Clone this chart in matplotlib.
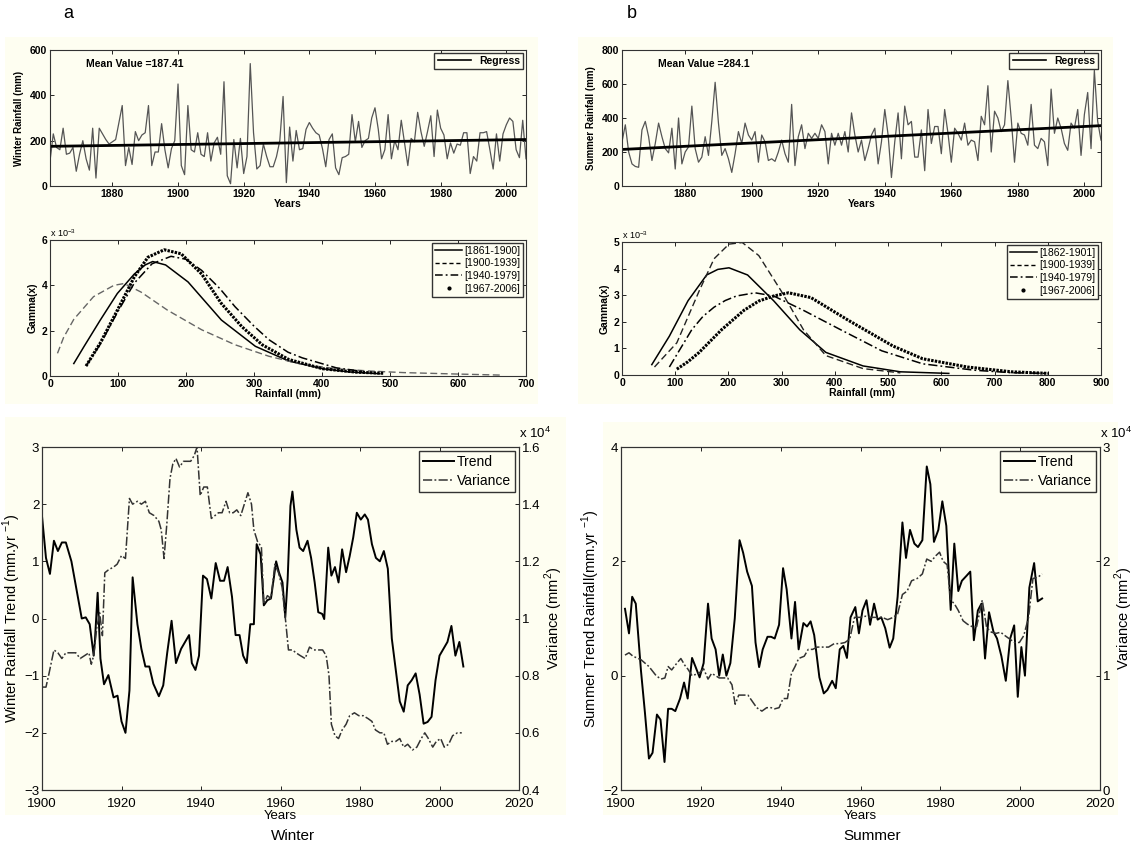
import matplotlib
matplotlib.use('Agg')
import matplotlib.pyplot as plt
from matplotlib.lines import Line2D
from matplotlib.patches import Rectangle

plt.rcParams['font.family'] = ['Liberation Sans', 'DejaVu Sans']
plt.rcParams['mathtext.fontset'] = 'custom'
plt.rcParams['mathtext.rm'] = 'Liberation Sans'

# ---------------- data ----------------
winter_years = list(range(1861, 2007))
winter_rain = [110, 230, 170, 160, 255, 140, 145, 170, 65, 140,
               200, 120, 70, 255, 35, 255, 230, 205, 185, 195,
               205, 280, 355, 90, 170, 95, 240, 200, 225, 235,
               355, 90, 150, 150, 275, 160, 80, 165, 200, 450,
               90, 50, 355, 160, 150, 235, 140, 130, 235, 110,
               190, 215, 140, 460, 45, 10, 205, 80, 210, 55,
               130, 540, 235, 75, 90, 185, 130, 85, 85, 130,
               200, 395, 15, 260, 110, 245, 160, 165, 250, 280,
               255, 235, 225, 165, 85, 205, 230, 80, 50, 125,
               130, 140, 315, 195, 285, 170, 200, 210, 300, 345,
               250, 120, 160, 315, 120, 200, 160, 290, 190, 90,
               210, 195, 325, 240, 175, 240, 310, 130, 335, 255,
               225, 120, 190, 145, 185, 180, 235, 235, 55, 130,
               110, 235, 235, 240, 160, 75, 230, 110, 230, 270,
               300, 285, 160, 125, 290, 120]
winter_reg_years = [1861, 2006]
winter_reg_vals = [175, 205]
winter_mean_text = 'Mean Value =187.41'

summer_years = list(range(1861, 2006))
summer_rain = [260, 360, 200, 130, 115, 110, 330, 380, 290, 150,
               250, 370, 290, 220, 195, 340, 100, 400, 130, 200,
               230, 470, 220, 140, 170, 290, 180, 380, 610, 370,
               180, 220, 160, 80, 190, 320, 250, 370, 300, 270,
               320, 140, 300, 260, 150, 160, 145, 200, 270, 190,
               140, 480, 120, 290, 360, 220, 310, 280, 310, 280,
               360, 320, 130, 310, 240, 310, 240, 320, 200, 430,
               300, 200, 270, 150, 220, 300, 340, 130, 260, 450,
               300, 50, 260, 430, 160, 470, 360, 380, 170, 170,
               330, 90, 450, 250, 350, 350, 190, 450, 310, 140,
               340, 310, 270, 370, 240, 270, 260, 150, 410, 360,
               590, 200, 440, 400, 320, 360, 620, 400, 140, 370,
               310, 300, 240, 480, 240, 220, 280, 260, 120, 570,
               310, 400, 340, 250, 210, 370, 340, 450, 180, 420,
               550, 220, 680, 380, 270]
summer_reg_years = [1861, 2005]
summer_reg_vals = [215, 355]
summer_mean_text = 'Mean Value =284.1'

# gamma curves (y in units of 1e-3)
wg_labels = ['[1861-1900]', '[1900-1939]', '[1940-1979]', '[1967-2006]']
wg1_x = [35, 50, 74, 99, 124, 140, 151, 170, 203, 252, 302, 351, 401, 440, 485]
wg1_y = [0.55, 1.3, 2.47, 3.64, 4.5, 4.9, 5.05, 4.9, 4.15, 2.47, 1.31, 0.66, 0.32, 0.18, 0.1]
wg2_x = [11, 20, 35, 64, 94, 109, 134, 173, 223, 272, 322, 371, 421, 470, 520, 594, 663]
wg2_y = [1.0, 1.7, 2.5, 3.5, 4.0, 4.08, 3.7, 2.9, 2.04, 1.38, 0.87, 0.51, 0.32, 0.22, 0.15, 0.09, 0.04]
wg3_x = [53, 74, 99, 124, 150, 178, 200, 223, 250, 272, 300, 322, 350, 371, 421, 460]
wg3_y = [0.44, 1.4, 2.8, 4.1, 4.95, 5.28, 5.15, 4.66, 3.85, 3.06, 2.2, 1.6, 1.05, 0.8, 0.36, 0.2]
wg4_x = [53, 74, 99, 124, 144, 168, 193, 223, 252, 282, 312, 351, 401, 450, 490]
wg4_y = [0.44, 1.46, 2.9, 4.37, 5.24, 5.57, 5.39, 4.5, 3.2, 2.18, 1.38, 0.73, 0.32, 0.17, 0.12]

sg_labels = ['[1862-1901]', '[1900-1939]', '[1940-1979]', '[1967-2006]']
sg1_x = [56, 89, 124, 159, 180, 201, 236, 285, 334, 383, 453, 523, 614]
sg1_y = [0.39, 1.46, 2.79, 3.76, 3.97, 4.03, 3.76, 2.79, 1.70, 0.85, 0.34, 0.12, 0.06]
sg2_x = [61, 103, 145, 173, 201, 226, 257, 299, 341, 383, 453, 523]
sg2_y = [0.3, 1.21, 3.16, 4.37, 4.92, 4.98, 4.49, 3.16, 1.7, 0.73, 0.24, 0.08]
sg3_x = [89, 110, 131, 152, 173, 194, 215, 250, 285, 341, 411, 488, 565, 662, 732, 802]
sg3_y = [0.3, 1.0, 1.70, 2.2, 2.55, 2.8, 2.97, 3.09, 2.97, 2.43, 1.70, 0.91, 0.42, 0.18, 0.085, 0.06]
sg4_x = [103, 124, 145, 187, 229, 257, 285, 313, 355, 425, 509, 565, 649, 732, 802]
sg4_y = [0.22, 0.5, 0.85, 1.70, 2.43, 2.78, 2.97, 3.09, 2.91, 2.06, 1.09, 0.61, 0.30, 0.12, 0.06]

# moving trend / variance (variance in units of 1e4 mm^2)
wt_years = [1900, 1901, 1902, 1903, 1904, 1905, 1906, 1907.4, 1910, 1911,
            1912, 1913, 1913.3, 1914, 1914.7, 1915.6, 1916.7, 1918, 1919, 1920,
            1921, 1922, 1922.8, 1924, 1925, 1926, 1927, 1928, 1929.4, 1930.5,
            1931.5, 1932.6, 1933.7, 1935, 1936, 1937, 1937.7, 1938.6, 1939.5, 1940.5,
            1941.5, 1942.6, 1943.7, 1944.8, 1945.8, 1946.7, 1947.8, 1948.7, 1949.7, 1950.6,
            1951.5, 1952.4, 1953.3, 1954, 1955, 1955.8, 1956.7, 1957.6, 1958.9, 1959.6,
            1960.5, 1961.2, 1961.8, 1962.5, 1963, 1964, 1964.8, 1965.7, 1966.8, 1967.7,
            1968.6, 1969.5, 1970.5, 1971, 1972, 1972.8, 1973.7, 1974.6, 1975.5, 1976.5,
            1977.4, 1978.3, 1979.2, 1980.2, 1981.2, 1982, 1983, 1984, 1985, 1986,
            1987, 1988, 1989, 1990, 1991, 1992, 1993, 1994, 1995, 1996,
            1997, 1998, 1999, 2000, 2001, 2002, 2003, 2004, 2005, 2006]
wt_vals = [1.79, 1.06, 0.78, 1.36, 1.18, 1.33, 1.33, 1.0, 0.0, 0.02,
           -0.1, -0.65, -0.4, 0.45, -0.7, -1.15, -0.99, -1.38, -1.35, -1.8,
           -2.0, -1.26, 0.72, -0.1, -0.53, -0.84, -0.84, -1.14, -1.36, -1.17,
           -0.6, -0.04, -0.78, -0.53, -0.41, -0.29, -0.78, -0.9, -0.65, 0.75,
           0.69, 0.35, 0.97, 0.66, 0.66, 0.9, 0.38, -0.29, -0.29, -0.65,
           -0.78, -0.1, -0.1, 1.30, 1.12, 0.23, 0.32, 0.35, 1.0, 0.81,
           0.63, 0.02, 0.69, 1.97, 2.22, 1.55, 1.24, 1.18, 1.36, 1.06,
           0.63, 0.11, 0.08, -0.01, 1.24, 0.75, 0.9, 0.63, 1.21, 0.81,
           1.09, 1.42, 1.85, 1.73, 1.82, 1.73, 1.30, 1.06, 1.0, 1.18,
           0.87, -0.35, -0.9, -1.45, -1.63, -1.17, -1.08, -0.96, -1.33, -1.84,
           -1.81, -1.72, -1.08, -0.65, -0.53, -0.41, -0.13, -0.65, -0.41, -0.84]
wv_years = [1900, 1901, 1901.8, 1903, 1904, 1905, 1906, 1907, 1908.5, 1909.6,
            1910.7, 1911.8, 1912.4, 1913, 1913.8, 1914.5, 1915.2, 1915.8, 1916.7, 1918,
            1918.9, 1920, 1921, 1922, 1922.8, 1924, 1925, 1926, 1927, 1928.2,
            1929.4, 1930, 1930.7, 1931.4, 1932.2, 1932.9, 1933.7, 1934.6, 1935.6, 1936.5,
            1937.4, 1938.3, 1939, 1939.8, 1940.7, 1941.6, 1942.6, 1943.5, 1944.4, 1945.3,
            1946.3, 1947.2, 1948.1, 1949, 1950, 1950.9, 1951.8, 1952.7, 1953.3, 1954.2,
            1955.2, 1955.8, 1956.7, 1957.6, 1958.6, 1959.5, 1960.4, 1961.3, 1962, 1963,
            1963.9, 1965, 1966.2, 1967.3, 1968.4, 1969.5, 1970.6, 1971.5, 1972.2, 1972.8,
            1973.7, 1974.6, 1975.5, 1976.5, 1977.4, 1978.6, 1979.7, 1980.8, 1982, 1983,
            1983.9, 1985, 1986, 1986.9, 1988, 1989, 1990, 1991, 1992, 1993.2,
            1994.3, 1995.4, 1996.3, 1997.2, 1998.3, 1999.2, 2000.3, 2001.2, 2002.3, 2003.3,
            2004.5, 2005.6]
wv_vals = [0.76, 0.76, 0.81, 0.89, 0.88, 0.86, 0.88, 0.88, 0.88, 0.86,
           0.87, 0.88, 0.84, 0.87, 0.97, 1.02, 0.94, 1.16, 1.17, 1.18,
           1.19, 1.22, 1.21, 1.42, 1.40, 1.41, 1.40, 1.41, 1.37, 1.36,
           1.34, 1.31, 1.21, 1.33, 1.49, 1.54, 1.56, 1.53, 1.55, 1.55,
           1.55, 1.57, 1.60, 1.43, 1.46, 1.46, 1.35, 1.36, 1.37, 1.37,
           1.41, 1.37, 1.37, 1.38, 1.36, 1.40, 1.44, 1.40, 1.31, 1.27,
           1.25, 1.05, 1.08, 1.07, 1.19, 1.16, 1.11, 0.99, 0.89, 0.89,
           0.88, 0.87, 0.86, 0.90, 0.89, 0.89, 0.89, 0.87, 0.80, 0.63,
           0.59, 0.58, 0.61, 0.63, 0.66, 0.67, 0.66, 0.66, 0.65, 0.64,
           0.61, 0.60, 0.60, 0.56, 0.57, 0.57, 0.58, 0.55, 0.56, 0.54,
           0.55, 0.58, 0.60, 0.58, 0.55, 0.57, 0.58, 0.55, 0.56, 0.59,
           0.60, 0.60]

st_years = [1901, 1902, 1902.8, 1903.7, 1905, 1906, 1907, 1907.9, 1909, 1909.9,
            1910.9, 1911.8, 1912.7, 1913.6, 1914.8, 1915.8, 1916.7, 1917.8, 1918.7, 1919.7,
            1920.7, 1921.8, 1922.7, 1923.7, 1924.6, 1925.5, 1926.4, 1927.4, 1928.5, 1929.7,
            1930.6, 1931.6, 1932.8, 1933.7, 1934.6, 1935.5, 1936.7, 1937.6, 1938.5, 1939.6,
            1940.6, 1941.5, 1942.7, 1943.6, 1944.5, 1945.7, 1946.6, 1947.5, 1948.4, 1949.7,
            1950.8, 1951.7, 1952.9, 1953.8, 1954.8, 1955.7, 1956.6, 1957.5, 1958.7, 1959.6,
            1960.5, 1961.5, 1962.4, 1963.4, 1964.3, 1965.2, 1966.2, 1967.3, 1968.2, 1969.3,
            1970.5, 1971.4, 1972.4, 1973.5, 1974.4, 1975.5, 1976.6, 1977.5, 1978.4, 1979.5,
            1980.5, 1981.5, 1982.6, 1983.5, 1984.5, 1985.4, 1986.6, 1987.5, 1988.4, 1989.4,
            1990.3, 1991.2, 1992.2, 1993.3, 1994.2, 1995.3, 1996.4, 1997.5, 1998.5, 1999.4,
            2000.3, 2001.2, 2002.3, 2003.5, 2004.4, 2005.5]
st_vals = [1.17, 0.74, 1.38, 1.26, 0.09, -0.65, -1.45, -1.35, -0.68, -0.77,
           -1.51, -0.58, -0.58, -0.62, -0.4, -0.12, -0.4, 0.31, 0.15, -0.03,
           0.22, 1.26, 0.65, 0.46, 0.0, 0.37, 0.0, 0.22, 1.0, 2.37,
           2.15, 1.82, 1.57, 0.58, 0.15, 0.46, 0.68, 0.68, 0.65, 0.89,
           1.88, 1.51, 0.65, 1.29, 0.46, 0.92, 0.86, 0.95, 0.71, -0.03,
           -0.31, -0.25, -0.09, -0.22, 0.46, 0.52, 0.31, 1.02, 1.2, 0.74,
           1.14, 1.32, 0.89, 1.26, 0.98, 1.02, 0.83, 0.49, 0.65, 1.38,
           2.68, 2.06, 2.55, 2.31, 2.25, 2.37, 3.66, 3.35, 2.34, 2.55,
           3.05, 2.62, 1.15, 2.31, 1.48, 1.66, 1.75, 1.82, 0.62, 1.14,
           1.26, 0.3, 1.11, 0.77, 0.65, 0.34, -0.09, 0.65, 0.88, -0.37,
           0.5, 0.0, 1.54, 1.97, 1.30, 1.35]
sv_years = [1901, 1902, 1903, 1905, 1907, 1908.8, 1910, 1911, 1911.8, 1912.7,
            1914, 1915, 1916, 1916.7, 1917.8, 1919.5, 1920.7, 1921.8, 1922.7, 1923.7,
            1924.6, 1925.7, 1926.7, 1927.8, 1928.6, 1929.5, 1930.6, 1931.8, 1933, 1934,
            1935.3, 1936.5, 1937.6, 1938.5, 1939.6, 1940.6, 1941.7, 1942.7, 1943.6, 1944.5,
            1945.9, 1946.9, 1948, 1949.2, 1950.6, 1952, 1953.4, 1954.8, 1956.1, 1957.3,
            1958.5, 1959.9, 1961.3, 1962.6, 1964, 1965.4, 1966.8, 1968.2, 1969.3, 1970.5,
            1971.7, 1972.8, 1974.2, 1975.5, 1976.6, 1977.7, 1978.9, 1979.8, 1980.7, 1981.7,
            1982.6, 1983.5, 1984.5, 1985.7, 1986.8, 1987.9, 1989.1, 1990.5, 1991.6, 1992.8,
            1994, 1995.1, 1996.2, 1997.4, 1998.6, 1999.8, 2000.9, 2002.1, 2003.2, 2004.4,
            2005.5]
sv_vals = [1.18, 1.2, 1.17, 1.14, 1.08, 1.0, 0.97, 0.98, 1.08, 1.05,
           1.11, 1.15, 1.09, 1.06, 1.0, 1.02, 1.06, 0.97, 1.02, 1.0,
           0.98, 0.98, 0.98, 0.92, 0.75, 0.83, 0.83, 0.83, 0.77, 0.72,
           0.69, 0.72, 0.72, 0.71, 0.72, 0.80, 0.80, 1.02, 1.08, 1.15,
           1.17, 1.23, 1.23, 1.25, 1.25, 1.25, 1.28, 1.28, 1.29, 1.32,
           1.51, 1.51, 1.52, 1.51, 1.51, 1.51, 1.49, 1.51, 1.54, 1.71,
           1.74, 1.83, 1.85, 1.89, 2.02, 2.0, 2.05, 2.08, 2.0, 1.97,
           1.66, 1.63, 1.57, 1.48, 1.45, 1.43, 1.43, 1.66, 1.42, 1.38,
           1.37, 1.38, 1.35, 1.32, 1.29, 1.29, 1.35, 1.51, 1.85, 1.86,
           1.89]

# ---------------- layout helpers ----------------
W, H = 1146, 846
fig = plt.figure(figsize=(W / 100, H / 100), dpi=100)
fig.patch.set_facecolor('white')
CREAM = '#FEFEF1'


def rect(l, t, r, b):
    return [l / W, 1 - b / H, (r - l) / W, (b - t) / H]


bg = fig.add_axes([0, 0, 1, 1], zorder=-10)
bg.set_xlim(0, W)
bg.set_ylim(H, 0)
bg.axis('off')
for (l, t, r, b) in [(5, 37, 538, 404), (578, 37, 1113, 404),
                     (5, 417, 566, 815), (603, 422, 1118, 815)]:
    bg.add_patch(Rectangle((l, t), r - l, b - t, facecolor=CREAM, edgecolor='none'))


def style(ax, fs, bold):
    ax.set_facecolor(CREAM)
    ax.tick_params(direction='in', top=True, right=True, labelsize=fs,
                   length=3, width=0.6, pad=2, colors='black')
    for s in ax.spines.values():
        s.set_linewidth(0.8)
        s.set_color('#333333')
    if bold:
        plt.setp(ax.get_xticklabels() + ax.get_yticklabels(), fontweight='bold')


TFS = 7.5

# ---------------- top: rainfall series ----------------
def series_panel(box, years, vals, reg_y, reg_v, xlim, ylim, yticks, mean_text, ylabel):
    ax = fig.add_axes(rect(*box))
    ax.plot(years, vals, color='#555555', lw=0.9)
    ax.plot(reg_y, reg_v, color='black', lw=2.0)
    ax.set_xlim(*xlim)
    ax.set_ylim(*ylim)
    ax.set_xticks([1880, 1900, 1920, 1940, 1960, 1980, 2000])
    ax.set_yticks(yticks)
    style(ax, TFS, True)
    ax.text(0.075, 0.9, mean_text, transform=ax.transAxes, fontsize=TFS,
            fontweight='bold', va='center')
    ax.legend([Line2D([], [], color='black', lw=1.2)], ['Regress'],
              loc='upper right', prop={'size': TFS, 'weight': 'bold'},
              fancybox=False, edgecolor='#333333', borderaxespad=0.25,
              handlelength=3.2, borderpad=0.3, framealpha=1, facecolor=CREAM)
    ax.set_xlabel('Years', fontsize=TFS, fontweight='bold', labelpad=0)
    ax.set_ylabel(ylabel, fontsize=7, fontweight='bold', labelpad=4)
    return ax


series_panel((50, 50, 526, 186), winter_years, winter_rain, winter_reg_years,
             winter_reg_vals, (1861, 2006), (0, 600), [0, 200, 400, 600],
             winter_mean_text, 'Winter Rainfall (mm)')
series_panel((622, 50, 1101, 186), summer_years, summer_rain, summer_reg_years,
             summer_reg_vals, (1861, 2005), (0, 800), [0, 200, 400, 600, 800],
             summer_mean_text, 'Summer Rainfall (mm)')

# ---------------- middle: gamma fits ----------------
def gamma_panel(box, curves, labels, xlim, ylim, xticks, yticks, dash_color):
    ax = fig.add_axes(rect(*box))
    (x1, y1), (x2, y2), (x3, y3), (x4, y4) = curves
    ax.plot(x1, y1, color='black', lw=1.1, ls='-')
    ax.plot(x2, y2, color=dash_color, lw=1.0, ls=(0, (5, 2.5)))
    ax.plot(x3, y3, color='black', lw=1.1, ls=(0, (6, 2, 1.2, 2)))
    ax.plot(x4, y4, color='black', lw=2.2, ls=(0, (0.8, 0.4)))
    ax.set_xlim(*xlim)
    ax.set_ylim(*ylim)
    ax.set_xticks(xticks)
    ax.set_yticks(yticks)
    style(ax, TFS, True)
    handles = [Line2D([], [], color='black', lw=1.1, ls='-'),
               Line2D([], [], color='black', lw=1.0, ls=(0, (3, 2))),
               Line2D([], [], color='black', lw=1.1, ls=(0, (5, 2, 1.2, 2))),
               Line2D([], [], color='black', ls='none', marker='.', markersize=4)]
    ax.legend(handles, labels, loc='upper right', prop={'size': TFS},
              fancybox=False, edgecolor='#333333', borderaxespad=0.25,
              handlelength=2.6, borderpad=0.3, labelspacing=0.25,
              handletextpad=0.2, framealpha=1, facecolor=CREAM)
    ax.text(0.0, 1.01, r'x 10$^{-3}$', transform=ax.transAxes, fontsize=6.5,
            ha='left', va='bottom')
    ax.set_xlabel('Rainfall (mm)', fontsize=TFS, fontweight='bold', labelpad=0)
    ax.set_ylabel('Gamma(x)', fontsize=TFS, fontweight='bold', labelpad=3)
    return ax


gamma_panel((50, 240, 526, 376),
            [(wg1_x, wg1_y), (wg2_x, wg2_y), (wg3_x, wg3_y), (wg4_x, wg4_y)],
            wg_labels, (0, 700), (0, 6), range(0, 701, 100), [0, 2, 4, 6], '#666666')
gamma_panel((622, 242, 1101, 375),
            [(sg1_x, sg1_y), (sg2_x, sg2_y), (sg3_x, sg3_y), (sg4_x, sg4_y)],
            sg_labels, (0, 900), (0, 5), range(0, 901, 100), [0, 1, 2, 3, 4, 5], '#222222')

# ---------------- bottom: moving trend and variance ----------------
BFS = 9.5


def trend_panel(box, ty, tv, vy, vv, ylim, yticks, y2lim, y2ticks, y2labels, ylabel):
    ax = fig.add_axes(rect(*box))
    ax2 = ax.twinx()
    l1, = ax.plot(ty, tv, color='black', lw=1.4, label='Trend')
    l2, = ax2.plot(vy, vv, color='#333333', lw=1.1, ls=(0, (6, 1.5, 1.2, 1.5)),
                   label='Variance')
    ax.set_xlim(1900, 2020)
    ax.set_ylim(*ylim)
    ax.set_yticks(yticks)
    ax.set_xticks(range(1900, 2021, 20))
    ax2.set_ylim(*y2lim)
    ax2.set_yticks(y2ticks)
    ax2.set_yticklabels(y2labels)
    style(ax, BFS, False)
    ax.tick_params(right=False)
    ax.tick_params(axis='x', pad=6)
    ax2.tick_params(direction='in', labelsize=BFS, length=3, width=0.6, pad=2)
    for s in ax2.spines.values():
        s.set_linewidth(0.8)
        s.set_color('#333333')
    ax.legend([l1, l2], ['Trend', 'Variance'], loc='upper right',
              prop={'size': 10}, fancybox=False, edgecolor='#333333',
              borderaxespad=0.3, handlelength=2.2, handletextpad=0.2,
              borderpad=0.3, labelspacing=0.3, framealpha=1, facecolor=CREAM)
    ax.set_xlabel('Years', fontsize=BFS, labelpad=0)
    ax.set_ylabel(ylabel, fontsize=10.5, labelpad=1)
    ax2.set_ylabel(r'Variance (mm$^{2}$)', fontsize=10.5, labelpad=2)
    ax2.text(1.0, 1.018, r'x 10$^{4}$', transform=ax2.transAxes, fontsize=BFS,
             ha='left', va='bottom')
    return ax


trend_panel((42, 447, 519, 790), wt_years, wt_vals, wv_years, wv_vals,
            (-3, 3), range(-3, 4), (0.4, 1.6),
            [0.4, 0.6, 0.8, 1.0, 1.2, 1.4, 1.6],
            ['0.4', '0.6', '0.8', '1', '1.2', '1.4', '1.6'],
            r'Winter Rainfall Trend (mm.yr $^{-1}$)')
trend_panel((621, 447, 1100, 790), st_years, st_vals, sv_years, sv_vals,
            (-2, 4), [-2, 0, 2, 4], (0, 3), [0, 1, 2, 3],
            ['0', '1', '2', '3'],
            r'Summer Trend Rainfall(mm.yr $^{-1}$)')

# ---------------- panel captions ----------------
fig.text(68 / W, 1 - 14 / H, 'a', fontsize=13, ha='center', va='center')
fig.text(632 / W, 1 - 14 / H, 'b', fontsize=13, ha='center', va='center')
fig.text(293 / W, 1 - 836 / H, 'Winter', fontsize=11, ha='center', va='center')
fig.text(872 / W, 1 - 836 / H, 'Summer', fontsize=11, ha='center', va='center')

fig.savefig('out.png', dpi=100, facecolor='white')
